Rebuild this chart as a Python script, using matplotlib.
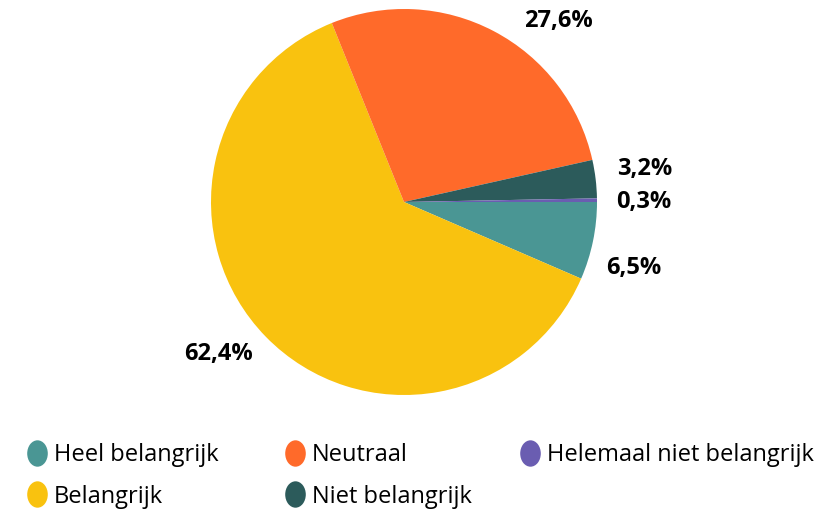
import matplotlib
matplotlib.use('Agg')
import matplotlib.pyplot as plt
from matplotlib.lines import Line2D
from matplotlib.path import Path

plt.rcParams['font.family'] = ['Open Sans', 'DejaVu Sans']

categories = ['Heel belangrijk', 'Belangrijk', 'Neutraal', 'Niet belangrijk', 'Helemaal niet belangrijk']
values = [6.5, 62.4, 27.6, 3.2, 0.3]
colors = ['#4A9694', '#F9C20F', '#FF6A2A', '#2C5B5B', '#6A5DB1']
value_labels = ['6,5%', '62,4%', '27,6%', '3,2%', '0,3%']
# label positions in pie units (radius = 1)
label_pos = [(1.19, -0.34), (-0.96, -0.79), (0.80, 0.94), (1.245, 0.17), (1.24, 0.0)]

fig = plt.figure(figsize=(8.34, 5.13), dpi=100)
ax = fig.add_axes([211 / 834, (513 - 395) / 513, 386 / 834, 386 / 513])
ax.pie(values, colors=colors, startangle=0, counterclock=False, radius=1,
       wedgeprops={'linewidth': 0})
ax.set_xlim(-1, 1)
ax.set_ylim(-1, 1)
ax.set_aspect('equal')
ax.axis('off')

for lab, (x, y) in zip(value_labels, label_pos):
    ax.text(x, y, lab, ha='center', va='center', fontsize=17, fontweight='bold',
            color='black', clip_on=False)

# oval legend marker
circ = Path.unit_circle()
oval = Path(circ.vertices * [0.78, 1.0], circ.codes)

# legend: three columns placed separately
columns = [[0, 1], [2, 3], [4]]
col_x = [28 / 834, 286 / 834, 521 / 834]
for cols, x in zip(columns, col_x):
    handles = [Line2D([], [], linestyle='none', marker=oval, markersize=19,
                      markerfacecolor=colors[i], markeredgewidth=0) for i in cols]
    labels = [categories[i] for i in cols]
    fig.legend(handles, labels, loc='upper left', bbox_to_anchor=(x, 1 - 443 / 513),
               frameon=False, fontsize=17, handlelength=0.8, handletextpad=0.3,
               labelspacing=0.75, borderaxespad=0, borderpad=0)

fig.savefig('out.png', dpi=100)
